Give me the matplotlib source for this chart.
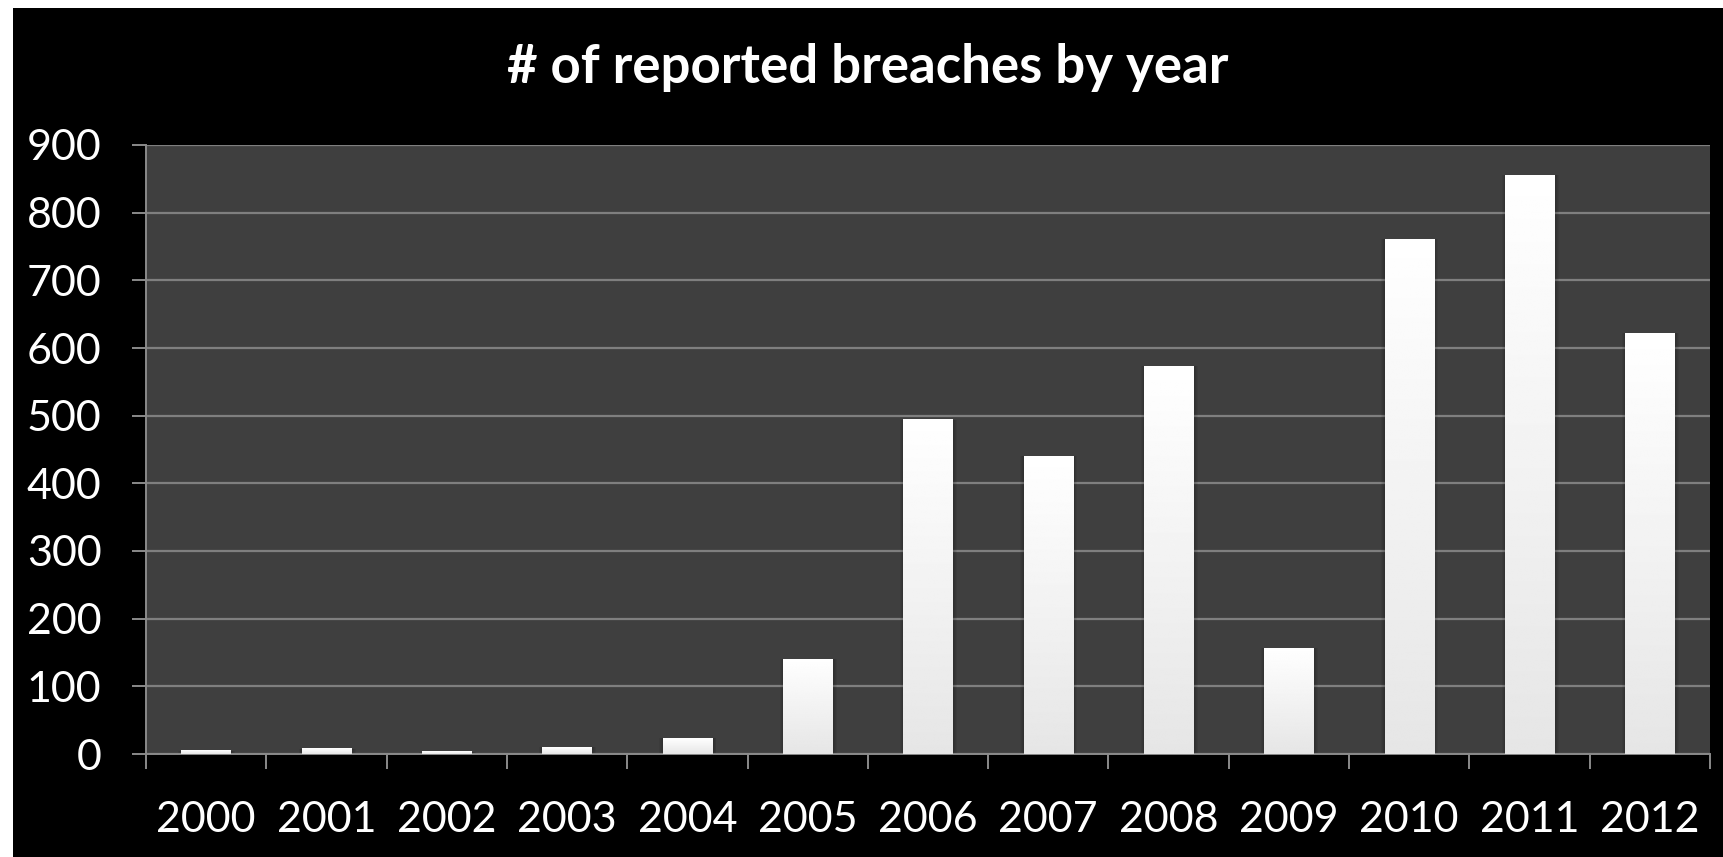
import matplotlib
matplotlib.use("Agg")
import matplotlib.pyplot as plt
import numpy as np
from matplotlib.patches import Rectangle

years = ["2000", "2001", "2002", "2003", "2004", "2005", "2006",
         "2007", "2008", "2009", "2010", "2011", "2012"]
breaches = [5, 8, 3, 10, 23, 140, 494, 440, 573, 156, 761, 855, 622]
y_ticks = [0, 100, 200, 300, 400, 500, 600, 700, 800, 900]
title = "# of reported breaches by year"

plt.rcParams['font.family'] = ['Lato', 'DejaVu Sans']

fig = plt.figure(figsize=(17.24, 8.57), dpi=100)
fig.patch.set_facecolor("white")
fig.patches.append(Rectangle((13/1724, 0), 1, 1 - 8/857, transform=fig.transFigure,
                             facecolor="black", edgecolor="none", zorder=-10))

ax = fig.add_axes([146/1724, 103/857, (1710-146)/1724, (754-145)/857])
ax.set_facecolor("#3f3f3f")

x = np.arange(len(years))
w = 0.41
grad = np.linspace(0.90, 1.0, 256).reshape(-1, 1)
for xi, v in zip(x, breaches):
    # soft shadow
    for k in range(4):
        pad = 0.008 * (k + 1)
        ax.bar(xi + 0.005, v, width=w + 2 * pad, color="black", alpha=0.06,
               linewidth=0, zorder=2)
    ax.imshow(grad, cmap="gray", vmin=0, vmax=1, aspect="auto", origin="lower",
              extent=[xi - w / 2, xi + w / 2, 0, v], zorder=3, interpolation="bilinear")

ax.set_xlim(-0.5, len(years) - 0.5)
ax.set_ylim(0, 900)
ax.set_yticks(y_ticks)
ax.set_yticklabels([str(t) for t in y_ticks])
ax.yaxis.grid(True, color="#7f7f7f", linewidth=1.6)
ax.set_axisbelow(True)

ax.set_xticks(x)
ax.set_xticklabels(years)
ax.set_xticks(np.arange(-0.5, len(years), 1.0), minor=True)
ax.tick_params(axis="x", which="major", length=0, pad=34, labelsize=31, labelcolor="white")
ax.tick_params(axis="x", which="minor", length=11, width=1.4, color="#8a8a8a")
ax.tick_params(axis="y", length=10, width=1.4, color="#8a8a8a", pad=22,
               labelsize=31, labelcolor="white")

for s in ["top", "right"]:
    ax.spines[s].set_visible(False)
for s in ["left", "bottom"]:
    ax.spines[s].set_color("#8a8a8a")
    ax.spines[s].set_linewidth(1.4)

fig.text(0.5 + 6/1724, 1 - 68/857, title, ha="center", va="center",
         color="white", fontsize=38, fontweight="bold")

fig.savefig("out.png", dpi=100, facecolor=fig.get_facecolor())
